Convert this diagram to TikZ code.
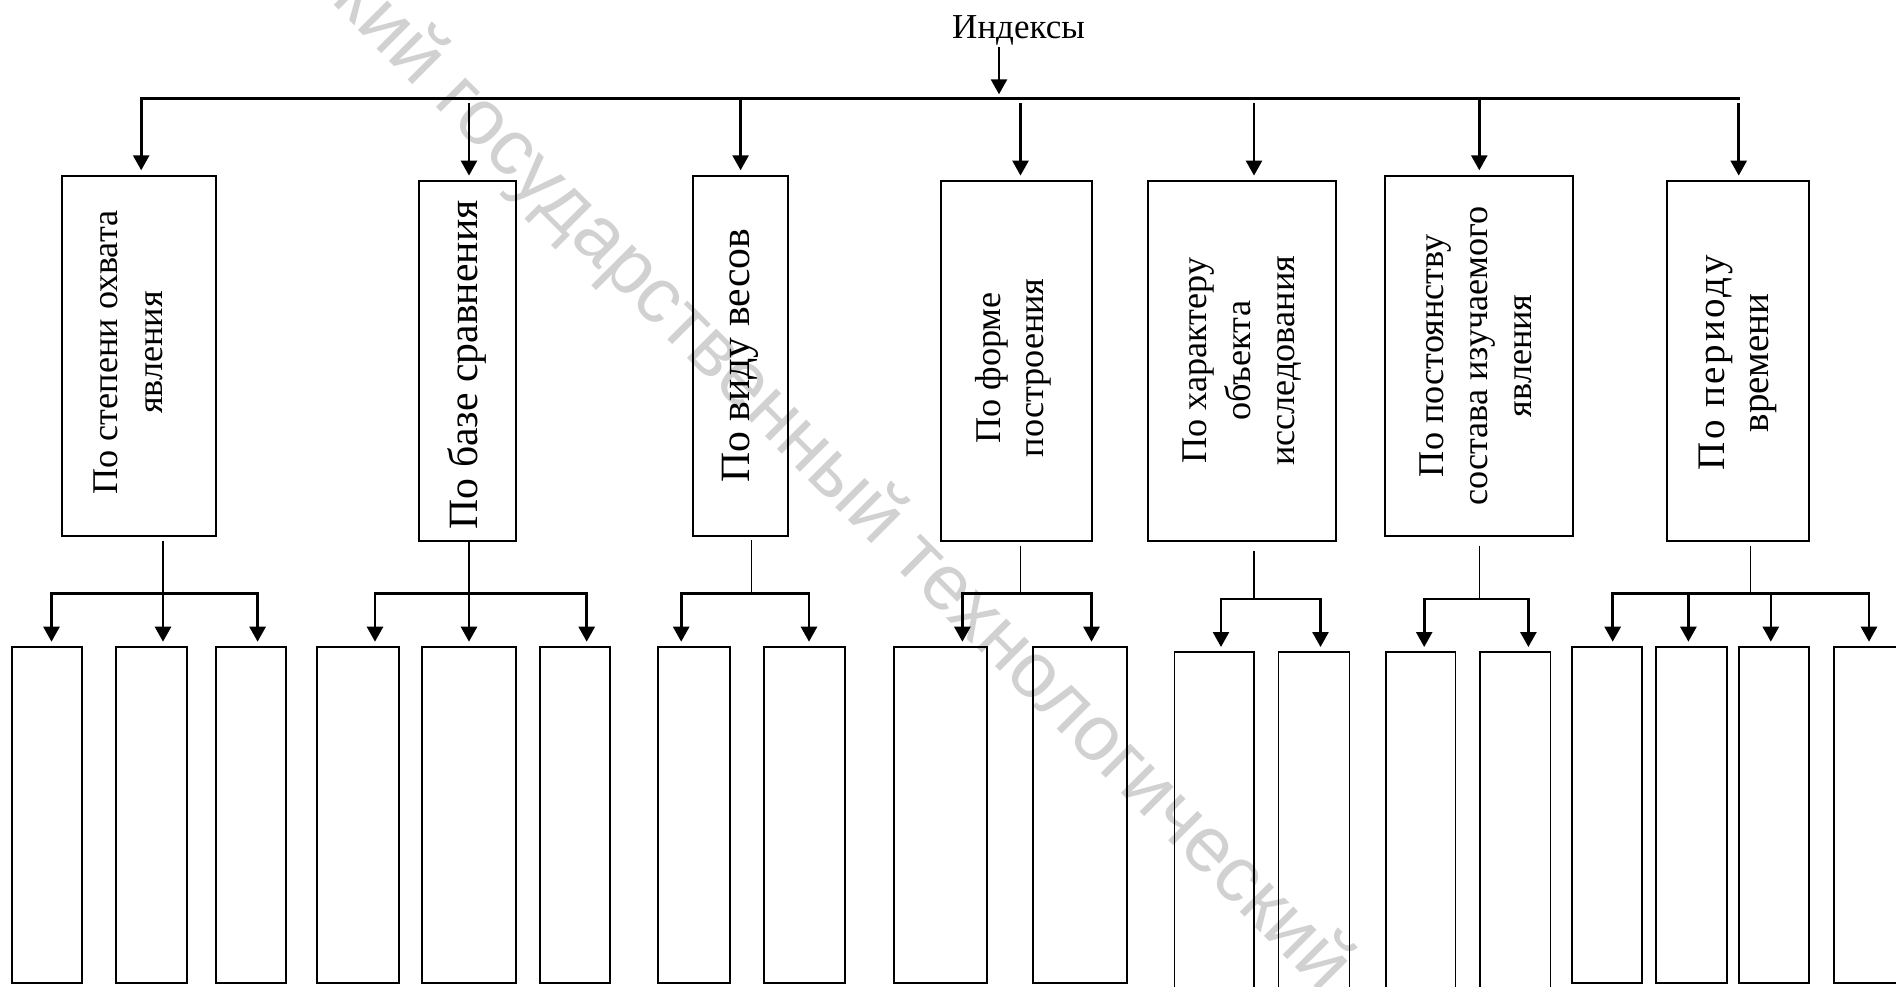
\documentclass[tikz,border=0pt]{standalone}
\usepackage{fontspec}
\setmainfont{Liberation Serif}
\newfontfamily\wmfont{Liberation Sans}
\usetikzlibrary{arrows.meta}
\begin{document}
\begin{tikzpicture}[x=0.5pt,y=-0.5pt,
  box/.style={draw, line width=1pt, inner sep=0pt, outer sep=0pt, anchor=north west},
  thinbox/.style={draw, line width=0.6pt, inner sep=0pt, outer sep=0pt, anchor=north west},
  wh/.style 2 args={minimum width=#1*0.5pt, minimum height=#2*0.5pt},
  arr/.style={line width=1.3pt, -{Triangle[length=7.5pt,width=8pt]}},
  bus/.style={line width=1.3pt, line cap=rect},
  stub/.style={line width=0.6pt},
  lbl/.style={inner sep=0pt, rotate=90, align=center, font=\fontsize{18.1pt}{22pt}\selectfont},
  lblbig/.style={inner sep=0pt, rotate=90, align=center, font=\fontsize{20.85pt}{24pt}\selectfont},
  wm/.style={inner sep=0pt, text=black!18, font=\wmfont\fontsize{39.3pt}{42pt}\selectfont}
]
\useasboundingbox (0,0) rectangle (1896,986);
\clip (0,0) rectangle (1896,986);

% watermark
\node[wm, rotate=-45] (wmark) at (812,454) {оский государственный технологический};

% title
\node[inner sep=0pt, anchor=base, font=\fontsize{17.5pt}{21pt}\selectfont] (idx) at (1018.5,38) {Индексы};
\coordinate (j0) at (999,98.7);
\draw[arr, shorten <=1pt, shorten >=2.2pt] (idx.south -| j0) -- (j0);

% bus
\coordinate (busL) at (141.2,98.7);
\coordinate (busR) at (1738.6,98.7);
\draw[bus] (busL) -- (busR);

% main boxes
\node[box, wh={153.3}{360.3}] (b1) at (62.4,175.7) {};
\node[box, wh={97.5}{359.7}]  (b2) at (418.7,181) {};
\node[box, wh={95.1}{360.3}]  (b3) at (692.5,175.7) {};
\node[box, wh={151.4}{359.7}] (b4) at (940.6,181) {};
\node[box, wh={187.9}{359.7}] (b5) at (1147.8,181) {};
\node[box, wh={187.6}{360.3}] (b6) at (1385.4,175.7) {};
\node[box, wh={142}{359.7}]   (b7) at (1667,181) {};

% labels
\node[lbl, font=\fontsize{18.1pt}{22.5pt}\selectfont] (t1) at ([xshift=-5.5pt,yshift=1.7pt]b1.center) {По степени охвата\\явления};
\node[lblbig] (t2) at ([yshift=-2pt]b2.center) {По базе сравнения};
\node[lblbig] (t3) at (b3.center) {По виду весов};
\node[lbl, font=\fontsize{18.1pt}{21.5pt}\selectfont] (t4) at ([xshift=-1.5pt,yshift=-3.5pt]b4.center) {По форме\\построения};
\node[lbl] (t5) at (b5.center) {По характеру\\объекта\\исследования};
\node[lbl] (t6) at ([xshift=-1.5pt]b6.center) {По постоянству\\состава изучаемого\\явления};
\node[lbl, font=\fontsize{19.5pt}{21.7pt}\selectfont] (t7) at ([yshift=-1pt]b7.center) {{\addfontfeature{LetterSpace=7}По периоду}\\времени};

% top arrows
\coordinate (a1) at (141.2,98.7);
\coordinate (a2) at (469,103);
\coordinate (a3) at (740.6,96.7);
\coordinate (a4) at (1020.5,103);
\coordinate (a5) at (1254,103);
\coordinate (a6) at (1479.3,96.7);
\coordinate (a7) at (1738.7,103);
\foreach \i in {1,...,7}{
  \draw[arr, shorten >=2.7pt] (a\i) -- (a\i |- b\i.north);
}

% child boxes
\node[box, wh={70.3}{336.6}] (c11) at (12.1,646.7) {};
\node[box, wh={70.3}{336.6}] (c12) at (116.4,646.7) {};
\node[box, wh={70.2}{336.6}] (c13) at (215.8,646.7) {};
\node[box, wh={81.8}{336.6}] (c21) at (317,646.7) {};
\node[box, wh={94.6}{336.6}] (c22) at (421.8,646.7) {};
\node[box, wh={69.7}{336.6}] (c23) at (540,646.7) {};
\node[box, wh={72.1}{336.6}] (c31) at (657.6,646.7) {};
\node[box, wh={80.6}{336.6}] (c32) at (764.2,646.7) {};
\node[box, wh={93.2}{336.6}] (c41) at (894,646.7) {};
\node[box, wh={93.3}{336.6}] (c42) at (1033.3,646.7) {};
\node[thinbox, wh={79.4}{360}] (c51) at (1174.5,652) {};
\node[thinbox, wh={70.9}{360}] (c52) at (1278.7,652) {};
\node[thinbox, wh={69.7}{360}] (c61) at (1386,652) {};
\node[thinbox, wh={70.3}{360}] (c62) at (1480,652) {};
\node[box, wh={69.8}{336.3}] (c71) at (1572,646.7) {};
\node[box, wh={70.9}{336.3}] (c72) at (1655.7,646.7) {};
\node[box, wh={70.3}{336.3}] (c73) at (1738.7,646.7) {};
\node[box, wh={72}{336.3}]   (c74) at (1833.9,646.7) {};

% stubs (from main box down to the group bracket)
\coordinate (s1) at (163,540.7);
\coordinate (s2) at (469,540.7);
\coordinate (s3) at (751.5,540);
\coordinate (s4) at (1020.5,545.7);
\coordinate (s5) at (1253.9,550.7);
\coordinate (s6) at (1479.3,545.7);
\coordinate (s7) at (1750.8,545.7);

% group brackets
\coordinate (g1L) at (51.5,593.7);   \coordinate (g1R) at (257.6,593.7);
\coordinate (g2L) at (375,593.7);    \coordinate (g2R) at (586.7,593.7);
\coordinate (g3L) at (681.2,593.7);  \coordinate (g3R) at (809,593.7);
\coordinate (g4L) at (962.4,593.7);  \coordinate (g4R) at (1091.5,593.7);
\coordinate (g5L) at (1221,599);     \coordinate (g5R) at (1320.5,599);
\coordinate (g6L) at (1424.2,599);   \coordinate (g6R) at (1528.4,599);
\coordinate (g7L) at (1612.7,593.7); \coordinate (g7R) at (1869,593.7);
\foreach \i in {1,...,7}{
  \draw[bus] (g\i L) -- (g\i R);
  \draw[stub] (s\i) -- (s\i |- g\i L);
}

% arrow start points on brackets
\coordinate (p11) at (51.5,593.7);
\coordinate (p12) at (163,593.7);
\coordinate (p13) at (257.6,593.7);
\coordinate (p21) at (375,593.7);
\coordinate (p22) at (469,593.7);
\coordinate (p23) at (586.7,593.7);
\coordinate (p31) at (681.2,593.7);
\coordinate (p32) at (809,593.7);
\coordinate (p41) at (962.4,593.7);
\coordinate (p42) at (1091.5,593.7);
\coordinate (p51) at (1221,599);
\coordinate (p52) at (1320.5,599);
\coordinate (p61) at (1424.2,599);
\coordinate (p62) at (1528.4,599);
\coordinate (p71) at (1612.7,593.7);
\coordinate (p72) at (1688.4,593.7);
\coordinate (p73) at (1770.8,593.7);
\coordinate (p74) at (1869,593.7);
\foreach \c in {11,12,13,21,22,23,31,32,41,42,51,52,61,62,71,72,73,74}{
  \draw[arr, shorten >=2.5pt] (p\c) -- (p\c |- c\c.north);
}
\end{tikzpicture}
\end{document}
